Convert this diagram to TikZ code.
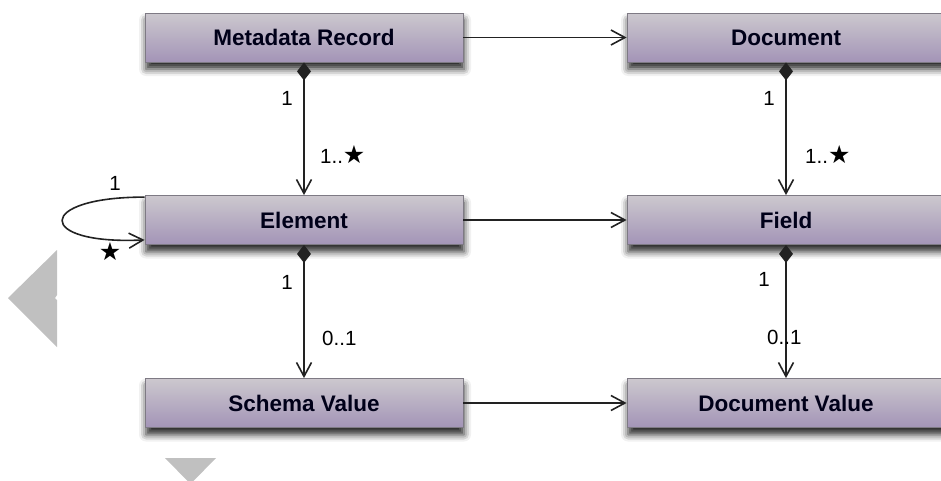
\documentclass[tikz,border=0pt]{standalone}
\usepackage{fontspec}
\setmainfont{Liberation Sans}
\newfontfamily\symfont{DejaVu Sans}
\usetikzlibrary{arrows.meta,shadows.blur}
\definecolor{boxtop}{HTML}{CCC8CE}
\definecolor{boxbot}{HTML}{A394B7}
\definecolor{boxline}{HTML}{7E7A84}
\definecolor{linec}{HTML}{222222}
\definecolor{tri}{HTML}{C0C0C0}
\newcommand{\stargl}{{\symfont\fontsize{25}{25}\selectfont ★}}
\tikzset{
  classbox/.style={draw=boxline, line width=0.8pt, top color=boxtop, bottom color=boxbot,
    minimum width=318pt, minimum height=49pt, inner sep=0pt,
    font=\fontsize{22.5}{26}\selectfont\bfseries, text=black!90!blue,
    blur shadow={shadow xshift=1pt, shadow yshift=-7pt, shadow blur radius=7pt, shadow opacity=85}},
  assoc/.style={draw=linec, line width=1.6pt, -{Straight Barb[length=14pt,width=15pt,line width=1.6pt]}},
  comp/.style={draw=linec, line width=1.6pt, {Diamond[length=18pt,width=14pt]}-{Straight Barb[length=14pt,width=15pt,line width=1.6pt]}},
  mult/.style={font=\fontsize{20.5}{24}\selectfont, text=black, inner sep=0pt},
  navtri/.style={fill=tri, draw=none}
}
\begin{document}
\begin{tikzpicture}[x=1pt,y=-1pt]
\useasboundingbox (0,0) rectangle (941,480);
\clip (0,0) rectangle (941,480);
% navigation triangles
\fill[navtri] (57,250) -- (8,298) -- (57,347) -- (57,300) -- (55,298) -- (57,295) -- cycle;
\fill[navtri] (165,458) -- (216,458) -- (190.5,484) -- cycle;
% boxes
\node[classbox] (mr) at (304,37.5) {Metadata Record};
\node[classbox] (doc) at (786,37.5) {Document};
\node[classbox] (el) at (304,220) {Element};
\node[classbox] (fld) at (786,220) {Field};
\node[classbox] (sv) at (304,403) {Schema Value};
\node[classbox] (dv) at (786,403) {Document Value};
% horizontal associations
\draw[assoc] (mr.east) -- (doc.west);
\draw[assoc] (el.east) -- (fld.west);
\draw[assoc] (sv.east) -- (dv.west);
% compositions
\draw[comp] (mr.south) -- (el.north);
\draw[comp] (doc.south) -- (fld.north);
\draw[comp] (el.south) -- (sv.north);
\draw[comp] (fld.south) -- (dv.north);
% multiplicities
\node[mult] (m1) at (287,98) {1};
\node[mult,anchor=west] (m2) at (320,155) {1..\stargl};
\node[mult] (m3) at (769,98) {1};
\node[mult,anchor=west] (m4) at (805,155) {1..\stargl};
\node[mult] (m5) at (287,282) {1};
\node[mult,anchor=west] (m6) at (322,338) {0..1};
\node[mult] (m7) at (764,279) {1};
\node[mult,anchor=west] (m8) at (767,337) {0..1};
% self loop on Element
\coordinate (ls) at ([yshift=-2pt]el.north west);
\coordinate (le) at ([yshift=5pt]el.south west);
\draw[assoc] (ls) .. controls (35,197) and (35,245) .. (le);
\node[mult] (m9) at (115,183) {1};
\node[mult] (m10) at (110,252) {\stargl};
\end{tikzpicture}
\end{document}
